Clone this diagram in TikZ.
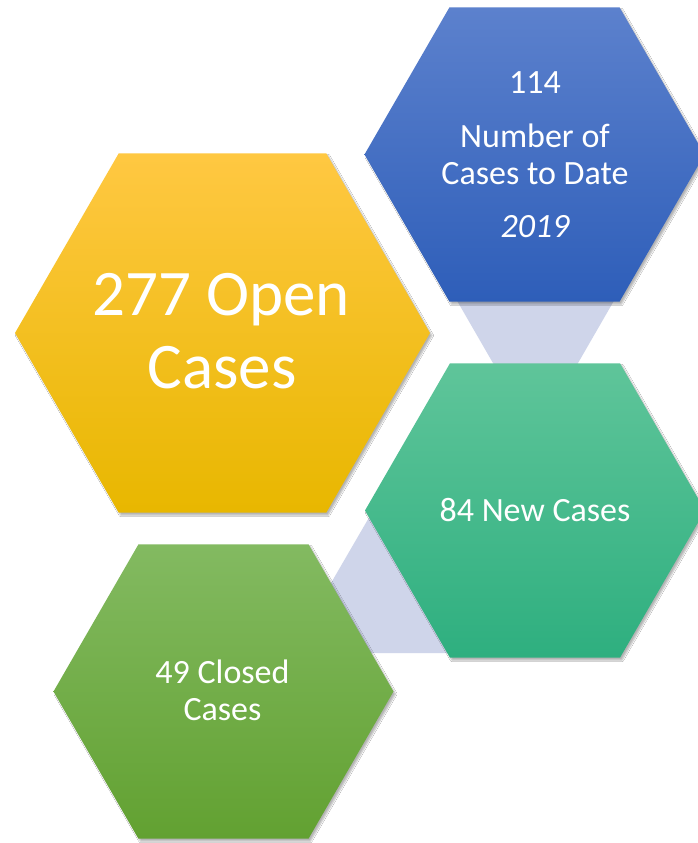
\documentclass[tikz,border=0pt]{standalone}
\usepackage{fontspec}
\setmainfont{Carlito}
\usetikzlibrary{shadows.blur}
\definecolor{yelTop}{RGB}{255,200,66}
\definecolor{yelMid}{RGB}{255,198,2}
\definecolor{yelBot}{RGB}{232,183,0}
\definecolor{bluTop}{RGB}{92,129,205}
\definecolor{bluBot}{RGB}{46,94,185}
\definecolor{teaTop}{RGB}{95,197,154}
\definecolor{teaBot}{RGB}{46,175,127}
\definecolor{grnTop}{RGB}{131,186,97}
\definecolor{grnBot}{RGB}{98,161,49}
\definecolor{lav}{RGB}{207,213,234}
\tikzset{
  hexshadow/.style={blur shadow={shadow xshift=2pt,shadow yshift=-2.5pt,shadow blur radius=1.5pt,shadow blur steps=6,shadow opacity=30}},
  lbl/.style={text=white, inner sep=0pt, anchor=base},
  bigfont/.style={font=\fontsize{65}{72}\selectfont},
  midfont/.style={font=\fontsize{34}{37}\selectfont},
  link/.style={fill=lav, draw=none}
}
\newcommand{\hexpath}[2]{(#1) +(0:#2) -- +(60:#2) -- +(120:#2) -- +(180:#2) -- +(240:#2) -- +(300:#2) -- cycle}
\begin{document}
\begin{tikzpicture}[x=1pt,y=-1pt]
\useasboundingbox (0,0) rectangle (698,843);
\clip (0,0) rectangle (698,843);
\fill[white] (0,0) rectangle (698,843);
% centres
\coordinate (cY) at (222.5,333);
\coordinate (cB) at (534.5,154.5);
\coordinate (cT) at (535,510.5);
\coordinate (cG) at (223.5,691.5);
% lavender links
\path[link] (452,292) -- (619,292) -- (574,370) -- (497,370) -- cycle;
\path[link] (385,490) -- (460,490) -- (460,653) -- (320,653) -- (320,602) -- cycle;
% hexagons
\path[hexshadow, top color=yelTop, middle color=yelMid, bottom color=yelBot] \hexpath{cY}{207.5};
\path[hexshadow, top color=bluTop, bottom color=bluBot] \hexpath{cB}{170};
\path[hexshadow, top color=teaTop, bottom color=teaBot] \hexpath{cT}{170};
\path[hexshadow, top color=grnTop, bottom color=grnBot] \hexpath{cG}{170};
% texts
\node[lbl, bigfont] (y1) at (221.5,315) {277 Open};
\node[lbl, bigfont] (y2) at (222,388) {Cases};
\node[lbl, midfont] (b1) at (535,93) {114};
\node[lbl, midfont] (b2) at (535,147) {Number of};
\node[lbl, midfont] (b3) at (535,184) {Cases to Date};
\node[lbl, midfont] (b4) at (535,237) {\itshape 2019};
\node[lbl, midfont] (t1) at (535,521) {84 New Cases};
\node[lbl, midfont] (g1) at (222.5,683) {49 Closed};
\node[lbl, midfont] (g2) at (222.5,720) {Cases};
\end{tikzpicture}
\end{document}
